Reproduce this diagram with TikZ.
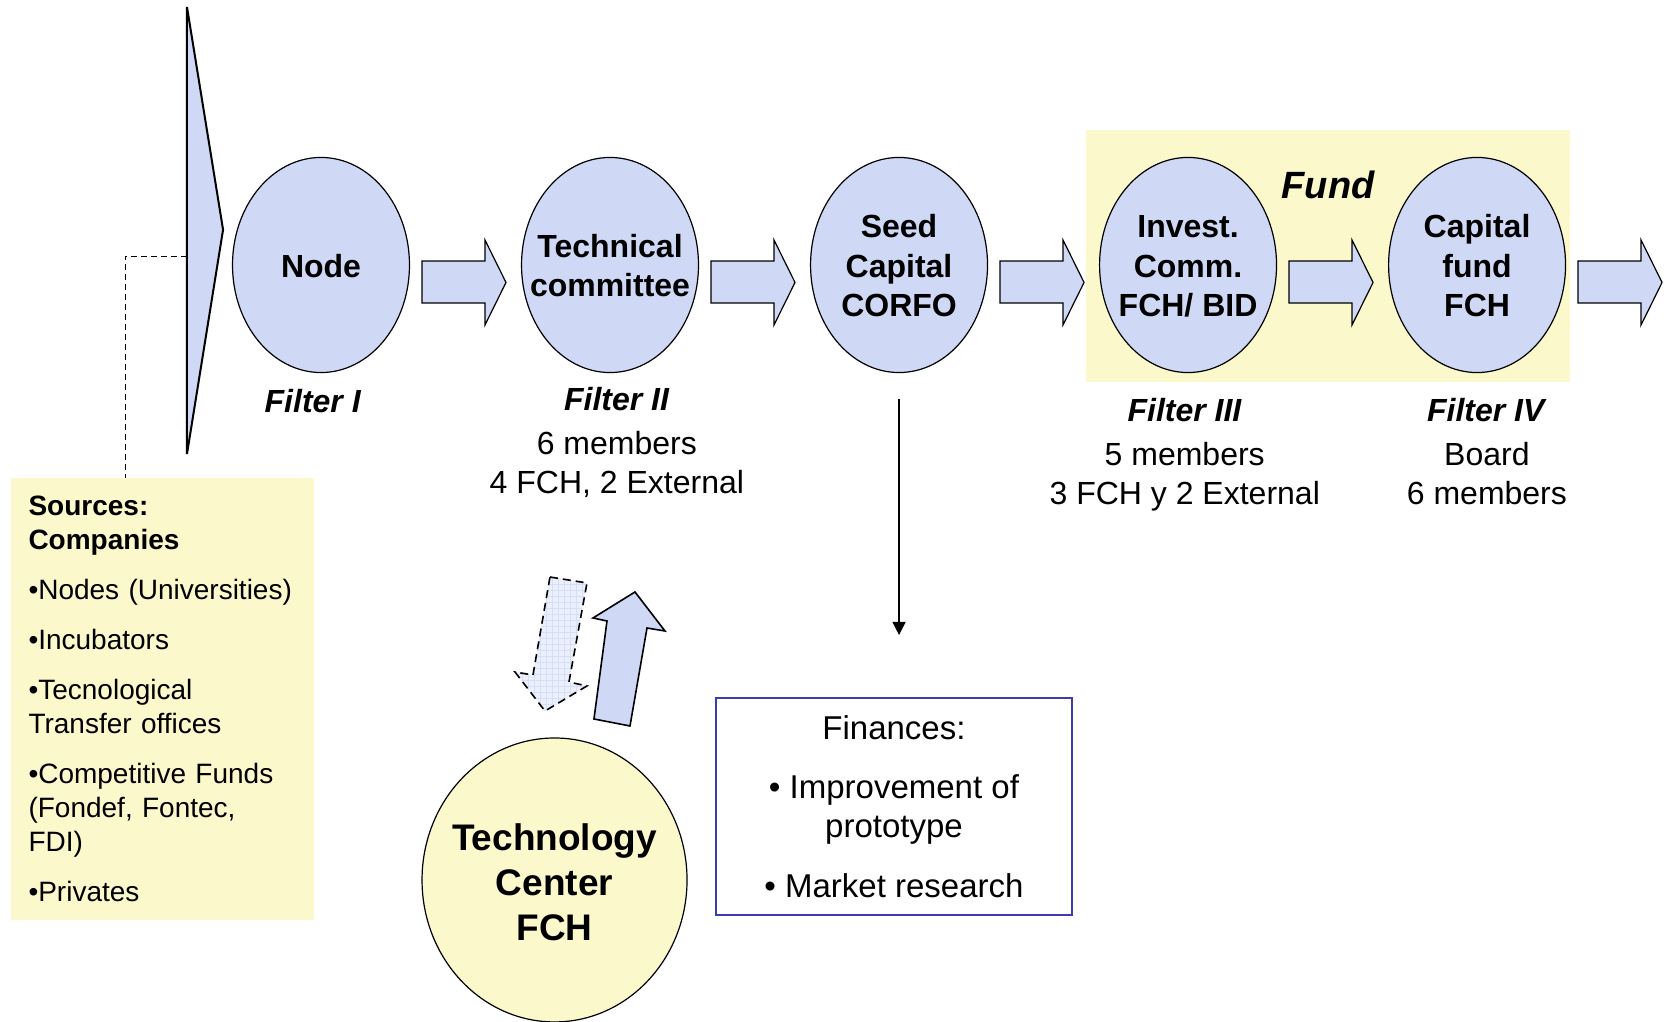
\documentclass[tikz,border=0pt]{standalone}
\usepackage{fontspec}
\setmainfont{Liberation Sans}
\usetikzlibrary{shapes.geometric,arrows.meta,patterns}
\definecolor{ellblue}{RGB}{207,217,245}
\definecolor{paleyel}{RGB}{251,248,204}
\definecolor{finblue}{RGB}{60,60,170}
\definecolor{gridblue}{RGB}{214,223,248}
\definecolor{paleblue}{RGB}{236,240,252}
\newcommand{\elltext}[2][-2.1pt]{\makebox[0pt]{\raisebox{#1}[\height][\depth]{\begin{tabular}{@{}c@{}}#2\end{tabular}}}}
\newcommand{\filt}[1]{\textbf{\textit{#1}}}
\begin{document}
\begin{tikzpicture}[scale=1,inner sep=0pt,outer sep=0pt,
stage/.style={draw,ellipse,fill=ellblue,line width=0.6pt,minimum width=3.11cm,minimum height=3.78cm,font=\bfseries\fontsize{16}{19.6}\selectfont},
blockarrow/.style={draw,fill=ellblue,line width=0.6pt,line join=miter},
capt/.style={align=center,font=\fontsize{16}{19.5}\selectfont},
srcbox/.style={fill=paleyel,rectangle,minimum width=5.325cm,minimum height=7.767cm,text width=134pt,align=left,font=\fontsize{14}{17}\selectfont},
finbox/.style={draw=finblue,rectangle,line width=1pt,minimum width=6.256cm,minimum height=3.814cm,align=center,font=\fontsize{16.5}{19.6}\selectfont},
tcen/.style={draw,ellipse,fill=paleyel,line width=0.6pt,minimum width=4.657cm,minimum height=4.99cm,font=\bfseries\fontsize{18.5}{22.5}\selectfont}]
\useasboundingbox (0,4.657) rectangle (29.242,-13.303);
\fill[paleyel] (19.08,2.37) rectangle (27.59,-2.06);
\draw (23.34,1.41) node[font=\bfseries\itshape\fontsize{19}{22}\selectfont] (fundlbl) {Fund};
\draw[fill=ellblue,line width=1pt,line join=miter] (3.286,4.534) -- (3.92,0.62) -- (3.286,-3.321) -- cycle;
\draw (5.641,0) node[stage] (nd) {\elltext{Node}};
\draw (10.720,0) node[stage] (tech) {\elltext{Technical\\committee}};
\draw (15.799,0) node[stage] (seed) {\elltext{Seed\\Capital\\CORFO}};
\draw (20.878,0) node[stage] (invc) {\elltext{Invest.\\Comm.\\FCH/ BID}};
\draw (25.957,0) node[stage] (capf) {\elltext{Capital\\fund\\FCH}};
\foreach \cx in {8.154,13.233,18.312,23.391,28.470}
  \draw[blockarrow] ({\cx-0.738},0.07) -- ({\cx+0.369},0.07) -- ({\cx+0.369},0.439) -- ({\cx+0.738},-0.307)
    -- ({\cx+0.369},-1.054) -- ({\cx+0.369},-0.668) -- ({\cx-0.738},-0.668) -- cycle;
\draw (5.50,-2.39) node[capt] (f1) {\filt{Filter I}};
\draw (10.84,-3.12) node[capt] (f2) {\filt{Filter II}\\[2.5pt]6 members\\4 FCH, 2 External};
\draw (20.82,-3.33) node[capt] (f3) {\filt{Filter III}\\[2.5pt]5 members\\3 FCH y 2 External};
\draw (26.13,-3.28) node[capt] (f4) {\filt{Filter IV}\\[2.5pt]Board\\6 members};
\draw (2.856,-7.627) node[srcbox] (src) {\textbf{Sources:}\\\textbf{Companies}\\[8pt]•Nodes (Universities)\\[8pt]•Incubators\\[8pt]•Tecnological\\Transfer offices\\[8pt]•Competitive Funds\\(Fondef, Fontec,\\FDI)\\[8pt]•Privates};
\coordinate (wdg) at (3.286,0.158);
\coordinate (dsh) at (2.197,0.158);
\draw[line width=0.5pt,dash pattern=on 3pt off 2pt] (wdg) -- (dsh) -- (dsh |- src.north);
\draw (15.71,-9.516) node[finbox] (fin) {Finances:\\[10pt]• Improvement of\\prototype\\[10pt]• Market research};
\draw[line width=0.6pt,-{Triangle[length=6.5pt,width=6.5pt]},shorten <=0.457cm,shorten >=1.107cm] (seed.south) -- (seed.south |- fin.north);
\draw (9.745,-10.807) node[tcen] (tcf) {\elltext[-3.2pt]{Technology\\Center\\FCH}};
% down arrow (dashed) and up arrow
\fill[paleblue] (9.665,-5.483) -- (10.315,-5.588) -- (9.999,-7.328) -- (10.315,-7.398) -- (9.577,-7.838) -- (9.050,-7.152) -- (9.366,-7.205) -- cycle;
\fill[pattern=grid,pattern color=gridblue] (9.665,-5.483) -- (10.315,-5.588) -- (9.999,-7.328) -- (10.315,-7.398) -- (9.577,-7.838) -- (9.050,-7.152) -- (9.366,-7.205) -- cycle;
\draw[line width=0.8pt,dash pattern=on 4pt off 2.5pt] (9.665,-5.483) -- (10.315,-5.588) -- (9.999,-7.328) -- (10.315,-7.398) -- (9.577,-7.838) -- (9.050,-7.152) -- (9.366,-7.205) -- cycle;
\draw[blockarrow,line width=0.8pt] (11.159,-5.746) -- (11.686,-6.432) -- (11.370,-6.379) -- (11.071,-8.101) -- (10.438,-7.978) -- (10.667,-6.256) -- (10.421,-6.203) -- cycle;
\end{tikzpicture}
\end{document}
